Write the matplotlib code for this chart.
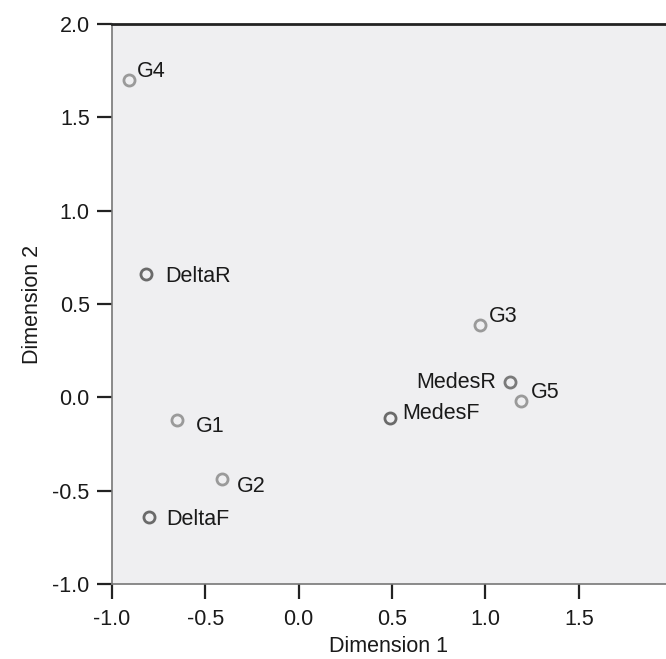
#! /usr/bin/env python3

import matplotlib
matplotlib.use("Agg")
import matplotlib.pyplot as plt

plt.rcParams["font.family"] = ["Liberation Sans", "DejaVu Sans"]

# object points in the common space
names = ["G4", "DeltaR", "G1", "G2", "DeltaF", "G3", "MedesR", "G5", "MedesF"]
dim1 = [-0.91, -0.82, -0.65, -0.41, -0.80, 0.97, 1.13, 1.19, 0.49]
dim2 = [1.70, 0.66, -0.12, -0.44, -0.64, 0.39, 0.08, -0.02, -0.11]
colors = ["#9a9a9a", "#6a6a6a", "#9a9a9a", "#9a9a9a", "#6a6a6a",
          "#9a9a9a", "#7a7a7a", "#9a9a9a", "#6a6a6a"]
# label offsets in points (dx, dy of the visual text centre) and alignment
offsets = [(5.8, 7.9), (14.4, -0.4), (13.7, -3.0), (10.8, -3.6), (12.2, -0.2),
           (6.5, 7.2), (-10.0, 1.4), (7.2, 7.9), (8.6, 5.0)]
aligns = ["left", "left", "left", "left", "left",
          "left", "right", "left", "left"]

xticks = [-1.0, -0.5, 0.0, 0.5, 1.0, 1.5]
yticks = [-1.0, -0.5, 0.0, 0.5, 1.0, 1.5, 2.0]

fs = 15.5
half_cap = 0.716 * fs / 2

fig = plt.figure(figsize=(6.66, 6.59), dpi=100)
ax = fig.add_axes([0.168, 0.1138, 0.832, 0.8498])
ax.set_facecolor("#efeff1")

for x, y, c in zip(dim1, dim2, colors):
    ax.plot(x, y, marker="o", markersize=8, markerfacecolor="none",
            markeredgecolor=c, markeredgewidth=2, linestyle="none")

for name, x, y, (dx, dy), ha in zip(names, dim1, dim2, offsets, aligns):
    ax.annotate(name, (x, y), xytext=(dx, dy - half_cap),
                textcoords="offset points",
                ha=ha, va="baseline", fontsize=fs, color="#1a1a1a")

ax.set_xlim(-1.0, 1.967)
ax.set_ylim(-1.0, 2.0)
ax.set_xticks(xticks)
ax.set_yticks(yticks)
ax.set_xticklabels(["%.1f" % t for t in xticks])
ax.set_yticklabels(["%.1f" % t for t in yticks])
ax.tick_params(axis="both", length=11, width=1.6, color="#222222",
               labelsize=fs, labelcolor="#1a1a1a")
ax.tick_params(axis="x", pad=7)
ax.tick_params(axis="y", pad=5)

ax.spines["top"].set_color("#222222")
ax.spines["top"].set_linewidth(2)
ax.spines["left"].set_color("#777777")
ax.spines["left"].set_linewidth(1.2)
ax.spines["bottom"].set_color("#777777")
ax.spines["bottom"].set_linewidth(1.2)
ax.spines["right"].set_visible(False)

ax.set_xlabel("Dimension 1", fontsize=fs, labelpad=4, color="#1a1a1a")
ax.set_ylabel("Dimension 2", fontsize=fs, labelpad=7, color="#1a1a1a")

fig.savefig("out.png", dpi=100)
plt.close()
